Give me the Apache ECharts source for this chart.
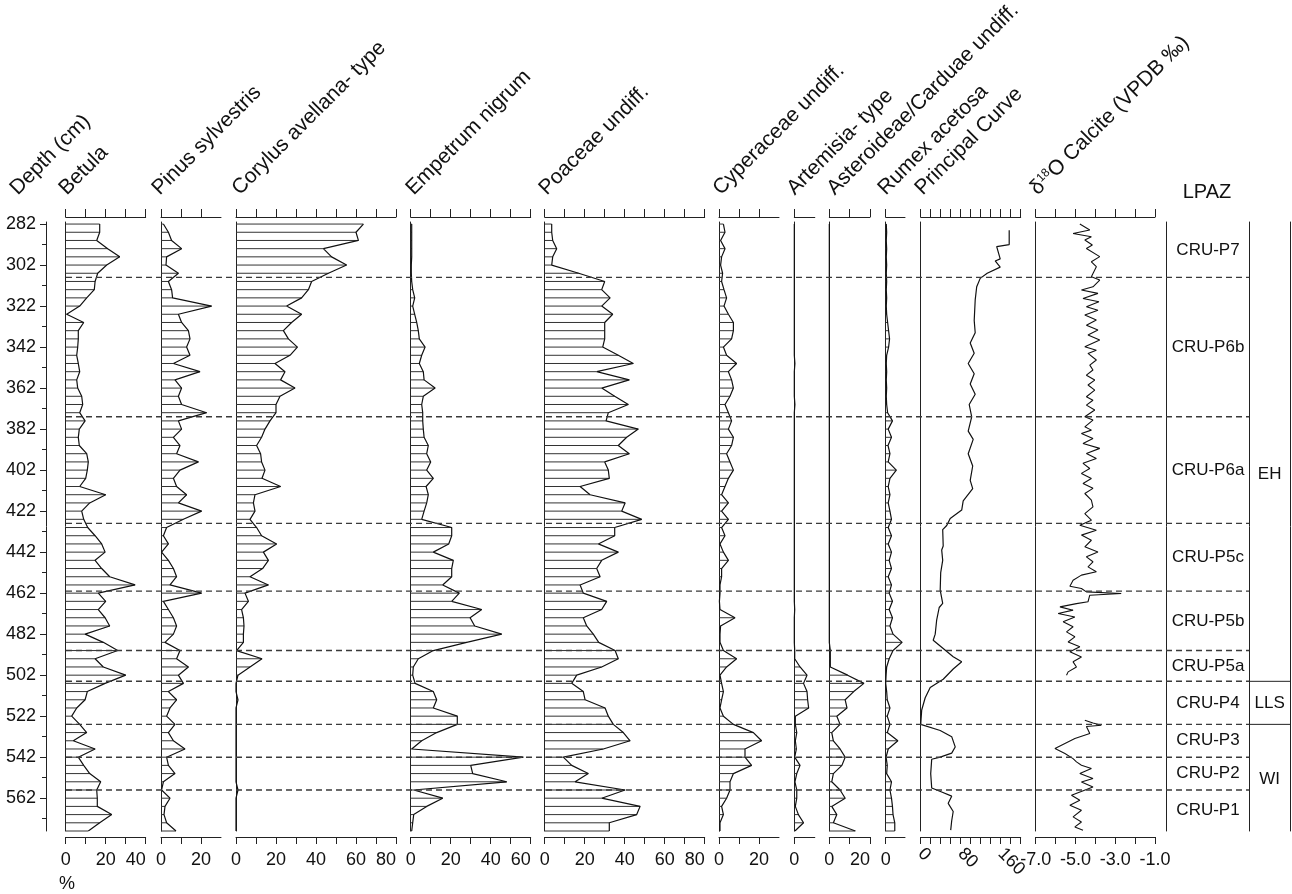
<!DOCTYPE html>
<html><head><meta charset="utf-8">
<script src="https://cdn.jsdelivr.net/npm/echarts@6/dist/echarts.min.js"></script>
<style>html,body{margin:0;padding:0;background:#fff}#c{width:1292px;height:894px}</style>
</head><body><div id="c"></div>
<script>
// ---------------- DATA ----------------
const depths = [282,286,290,294,298,302,306,310,314,318,322,326,330,334,338,342,346,350,354,358,362,366,370,374,378,382,386,390,394,398,402,406,410,414,418,422,426,430,434,438,442,446,450,454,458,462,466,470,474,478,482,486,490,494,498,502,506,510,514,518,522,526,530,534,538,542,546,550,554,558,562,566,570,574,578];
const betula = [17,17,15.5,21,27,20.5,16,14.7,14.3,10.5,7,0.5,9,6.3,6.3,6,5.5,6.3,7,5.5,6,8,8.5,7,9.7,6.8,6.3,6.8,10.5,11.3,10.8,10,7,20,12,8,9,11,14.7,18,19.7,14.7,18,22,34.7,16.3,20,16.3,19.7,22,9.7,18.8,26,14.7,18.8,30,19.7,10.8,9.7,5.5,3,7,10.5,3.8,14.7,6.3,9,12,17.5,15.5,15.8,15.8,23,17,11.3];
const pinus = [1.2,3.7,5.3,10.3,2.8,2.5,8.7,3.7,5.3,5.8,25.3,8.7,10.3,13.7,14.5,12.8,14.5,6.2,19.5,7,10.3,8.7,10.3,22.8,8.7,10.3,6.2,9.5,7.8,18.7,9.5,6.2,7.8,12.8,8.7,20.3,11.2,2.8,1.2,3.7,0.3,3.7,6.2,7.8,4.5,20.3,1.2,3.7,6.2,7.8,6.2,2,9.5,7.8,13.7,8.7,11.2,3.7,7.8,4.5,2.8,7,3.7,6.2,12,2.8,3.7,7,1.2,0.3,4.5,2,1.5,2.8,7.5];
const corylus = [63.7,60,61.2,43.7,47.8,55.3,46.2,37.8,36.2,32.8,25.3,32.8,27.8,23.7,26.2,30.7,27,19.5,24.5,22.3,29.5,22,20,20,17,14.5,12.8,10.3,12.3,12.8,14.5,13,22.3,9.5,8.7,9.5,7,10.3,12.8,20.3,13.7,16.2,13.3,7,16.2,4.5,6.2,2.8,3.7,4,3.7,3.7,0.3,13,7,1,0,0,1,0,0,0,0,0,0,0,0,0,0,1,0,0,0,0,0];
const empetrum = [0.5,0.5,0.5,0.5,0.5,0.3,0.3,0.5,1,2,1,2,3,3.8,4.3,7.2,5.5,4.3,6.3,6.7,12.2,6.3,5.5,6,6,6.3,6.7,8.8,8,10,8,11.3,7.7,8.8,8,6.7,5.5,20.5,20.5,19,11.3,21.3,20.5,20.5,16,24.3,20.5,35.5,29.7,32,45.5,28,11.3,3.8,1.3,1,2.2,11.3,13,11.3,23.3,23.3,13,5.5,0.5,56.3,30,31,48,1.5,16,8,1.5,1,0.5];
const poaceae = [3.5,3.5,4,6,4,3.5,17,30,28.5,32.7,28.5,34,30,30,30,29,36.8,44.3,26,42.3,28.5,35,41.8,31.8,30.7,46.8,41,36.8,42.3,30,31.8,32.3,17.7,22.7,40.2,38.5,48.5,35,35,26.8,36.8,28.5,26,27.7,17.7,19.3,31,28.5,19.3,21,24.3,27,35.2,36.8,28.5,16,13.5,19.3,20.2,30.2,31.8,34.3,39.3,42.7,29.3,9.3,13.5,21.8,15.2,40.2,28.5,47.7,46,32.3,32.3];
const cyperaceae = [2.2,3,0.8,3,1.3,0.8,1.8,1.3,2.5,3.8,2.5,4.7,7.2,7.2,6.3,2.2,3.8,8.8,4.7,6.3,7.2,5.5,3,4.7,6.3,4.7,7.2,6.3,3.8,5.5,7.2,4.7,3,1.3,4.7,1.3,4.7,1.3,3,0.5,2.2,4.7,1.3,1.3,0.5,0.5,0.2,0.5,8,0.8,0.5,0.5,2.2,8.8,3.8,0.5,1.3,2.2,1.3,0.5,2.2,7.2,17.2,21.3,13,13,16.3,7.2,5.5,5.5,3.8,1.3,2.2,0.5,0.5];
const artemisia = [0,0,0,0,0,0,0,0,0,0,0,0,0,0,0,0,0,0.3,0,0,0,0,0.3,0,0,0,0,0,0,0,0,0,0,0,0,0,0,0,0,0,0,0,0,0,0,0,0,0.2,0,0,0,0,0.2,0.2,2.8,6.2,4.5,6.2,6.5,7,0.5,0.5,1.2,0.5,1,0.2,2.8,1.2,0.3,1.2,1.2,0.5,2,4.5,0.3];
const asteroideae = [0,0,0,0,0,0,0,0,0,0,0,0,0,0,0,0,0,0,0,0,0,0,0,0,0,0,0,0,0,0,0,0,0,0,0,0,0,0,0,0,0,0,0,0,0,0,0,0,0,0,0,0,0.5,0.5,0.5,9,17,12,7.8,8.7,3.7,5.3,1.2,2,5.3,7.8,6.2,2,1.2,5.3,7.8,1.2,3.7,2,12.8];
const rumex = [0.3,0.5,0.3,0.5,0.3,0.5,0.3,0.5,0.3,0.5,0.3,0.5,1,1.5,2,1.5,0.5,0.3,0.5,0.3,0.5,0.3,0.5,1,3.5,1.3,3,1.2,2.2,1.3,5.5,2.2,1.3,2.2,1.3,2.2,3,1.3,3,1.3,3,1.8,3,1.3,3,1.8,3.5,1.8,3.5,2.2,3.8,8.5,3.8,1.8,0.5,0.2,0,0.5,0.8,2.2,0.8,2.2,0.8,6.3,1.3,0.2,0.8,0.5,3,2.2,3,3.5,3.8,4.7,4.7];

const pcDepth = [285,292,293,299,300,303,306,308.5,312.6,319,329,335,340,345,350,355,360,365,370,376,383,387,394,400,407,411,417,421.5,425.6,429,431,439,441,446,452,460.5,467,469,475,482,485,489,493,495.5,499,504,508,513,519,526,529,532,537,540,542,543,550,557,559,561,564.5,568.5,573,577.6];
const pcValue = [177,177,152,159,149,159,133,119,112,109,107,109,99,107,95,107,99,109,97,102,95,105,95,104,99,104,85,82,59,52,44,45,42,44,40,39,44,37,32,29,25,45,65,82,65,45,19,9,2,0,39,62,69,62,39,22,20,22,42,62,55,65,62,60];

const d18DepthA = [282,284.9,286.6,288.2,289.8,292.2,293.9,297.9,300.4,302.8,307.7,309.3,312.6,314.2,315.8,318.3,319.9,322.3,324,326.4,328.8,331.3,333.7,336.1,338.6,341.8,343.5,345.1,348.3,350.8,353.2,355.7,358.1,360.5,363,366.2,367.9,370.3,372.7,376,377.6,380.9,382.5,384.1,386.6,389,391.4,393.9,396.3,398.7,401.2,403.6,406.1,408.5,410.9,413.4,416.6,419.9,423.2,426.4,428.9,431.3,433.7,436.2,439.4,441.9,444.3,446.7,449.2,451.6,453.2,455.7,458.6,459.7,461.4,462.2,463,466.2,467.1,468.7,470.3,471.9,473.6,476,478.4,480.9,483.3,485.8,488.2,490.6,493.1,495.5,498,500.4,502];
const d18ValueA = [-4.78,-4.28,-5.12,-4.2,-4.53,-4.15,-4.45,-3.78,-4.2,-3.95,-4.2,-3.78,-4.12,-4.7,-3.87,-4.62,-3.82,-4.45,-3.87,-4.53,-3.95,-4.45,-3.87,-4.37,-3.78,-4.53,-3.95,-4.37,-3.95,-4.28,-4.12,-4.45,-4.03,-4.37,-4.03,-4.45,-4.12,-4.45,-4.03,-4.53,-4.12,-4.53,-4.2,-4.7,-4.12,-4.62,-3.78,-4.45,-3.95,-4.62,-4.28,-4.7,-4.2,-4.62,-4.12,-4.53,-4.2,-4.12,-4.53,-4.2,-4.78,-3.95,-4.7,-4.2,-4.53,-3.87,-4.45,-4.12,-4.37,-3.95,-4.7,-5.12,-5.28,-4.7,-4.45,-2.7,-4.28,-4.37,-4.95,-5.78,-5.12,-5.87,-5.03,-5.62,-5.12,-5.45,-5.03,-5.37,-4.78,-5.28,-4.7,-5.12,-4.95,-5.37,-5.45];
const d18DepthB = [524,525.3,526.4,527,530.5,532.9,537.8,540.2,542.7,544.3,545.9,547.5,550,552.4,554.1,556.5,560.6,563,565.4,567.9,571.1,573.6,576,577.6];
const d18ValueB = [-4.53,-4.12,-3.7,-4.45,-4.28,-5.03,-6.03,-5.53,-5.12,-4.95,-4.7,-4.2,-4.78,-4.12,-4.7,-4.12,-5.2,-4.78,-5.28,-4.7,-5.12,-4.7,-5.03,-4.62];

const depthLabels = [282,302,322,342,362,382,402,422,442,462,482,502,522,542,562];
const depthMinor = [292,312,332,352,372,392,412,432,452,472,492,512,532,552,572];
const zoneBounds = [308,376,428,461,490,505,526,542,558];
const zoneNames = ['CRU-P7','CRU-P6b','CRU-P6a','CRU-P5c','CRU-P5b','CRU-P5a','CRU-P4','CRU-P3','CRU-P2','CRU-P1'];
const zoneMids = [295,342,402,444.5,475.5,497.5,515.5,534,550,568];
const groupNames = ['EH','LLS','WI'];
const groupMids = [404,515.5,553];
const groupBounds = [505,526];

// ---------------- LAYOUT ----------------
const FONT = '"Liberation Sans", Arial, sans-serif';
const AX = '#222', TXT = '#111';
const TOP = 222, H = 609, YMIN = 281, YMAX = 578;

const panels = [
  {data:betula, left:65.7, width:80, min:0, max:40, ticks:[0,10,20,30,40], labels:[0,20,40], hatch:true, endR:true},
  {data:pinus, left:161, width:60, min:0, max:30, ticks:[0,10,20], labels:[0,20], hatch:true},
  {data:corylus, left:236, width:160, min:0, max:80, ticks:[0,10,20,30,40,50,60,70,80], labels:[0,20,40,60,80], hatch:true, endR:true},
  {data:empetrum, left:410.7, width:120, min:0, max:60, ticks:[0,10,20,30,40,50,60], labels:[0,20,40,60], hatch:true, endR:true},
  {data:poaceae, left:544.7, width:160, min:0, max:80, ticks:[0,10,20,30,40,50,60,70,80], labels:[0,20,40,60,80], hatch:true, endR:true},
  {data:cyperaceae, left:719, width:60, min:0, max:30, ticks:[0,10,20], labels:[0,20], hatch:true},
  {data:artemisia, left:794.3, width:20.5, min:0, max:10, ticks:[0], labels:[0], hatch:true},
  {data:asteroideae, left:829.3, width:40.7, min:0, max:20, ticks:[0,10,20], labels:[0,20], hatch:true, endR:true},
  {data:rumex, left:885.7, width:19.3, min:0, max:10, ticks:[0], labels:[0], hatch:true},
  {pc:true, left:920.7, width:100, min:0, max:200, ticks:[0,20,40,60,80,100,120,140,160,180,200], labels:[0,80,160], rotate:-45},
  {d18:true, left:1035.7, width:119.3, min:-7, max:-1, ticks:[-7,-6,-5,-4,-3,-2,-1], labels:[-7,-5,-3,-1], fmt:v=>Number(v).toFixed(1)}
];

const titles = [
  {t:'Depth (cm)', x:21, y:199},
  {t:'Betula', x:70, y:199},
  {t:'Pinus sylvestris', x:163, y:199},
  {t:'Corylus avellana- type', x:243, y:199},
  {t:'Empetrum nigrum', x:417, y:199},
  {t:'Poaceae undiff.', x:550, y:199},
  {t:'Cyperaceae undiff.', x:724, y:199},
  {t:'Artemisia- type', x:798, y:199},
  {t:'Asteroideae/Carduae undiff.', x:838, y:199},
  {t:'Rumex acetosa', x:889, y:199},
  {t:'Principal Curve', x:926, y:199},
  {t:'{a|δ}{s|18}{a|O Calcite (VPDB ‰)}', x:1041, y:199}
];

// ---------------- BUILD ----------------
const grid=[], xAxis=[], yAxis=[], series=[];
function addGrid(left,width){ grid.push({left:left, width:width, top:TOP, height:H, containLabel:false}); return grid.length-1; }
function baseAxis(){ return {type:'value', axisLine:{show:false}, axisTick:{show:false}, axisLabel:{show:false}, splitLine:{show:false}}; }
function addX(gi,o){ xAxis.push(Object.assign(baseAxis(),{gridIndex:gi},o)); return xAxis.length-1; }
function addY(gi,o){ yAxis.push(Object.assign(baseAxis(),{gridIndex:gi, min:YMIN, max:YMAX, inverse:true},o)); return yAxis.length-1; }
const lineOn = {show:true, onZero:false, lineStyle:{color:AX, width:1}};

// depth axis (major)
let g = addGrid(46, 5);
addX(g,{min:0,max:1,show:false});
addY(g,{position:'left', axisLine:lineOn,
  axisTick:{show:true, length:6, customValues:depthLabels, lineStyle:{color:AX}},
  axisLabel:{show:true, customValues:depthLabels, margin:10, fontSize:18, color:TXT, fontFamily:FONT}});
// depth axis (minor ticks)
g = addGrid(46, 5);
addX(g,{min:0,max:1,show:false});
addY(g,{position:'left', axisTick:{show:true, length:4, customValues:depthMinor, lineStyle:{color:AX}}});

function hatchRender(params, api){
  const v = api.value(0), d = api.value(1);
  const a = api.coord([0, d]), b = api.coord([v, d]);
  return {type:'line', shape:{x1:a[0], y1:a[1], x2:b[0], y2:b[1]}, style:{stroke:'#333', lineWidth:1}};
}
function textRender(names){
  return function(params, api){
    const p = api.coord([api.value(0), api.value(1)]);
    return {type:'text', x:p[0], y:p[1], style:{text:names[params.dataIndex], fill:TXT, fontSize:17, fontFamily:FONT, align:'center', verticalAlign:'middle'}};
  };
}

panels.forEach(p=>{
  const gi = addGrid(p.left, p.width);
  const xb = addX(gi,{position:'bottom', min:p.min, max:p.max, offset:6, axisLine:lineOn,
    axisTick:{show:true, length:7, customValues:p.ticks, lineStyle:{color:AX}},
    axisLabel:{show:true, customValues:p.labels, margin:14, fontSize:18, color:TXT, fontFamily:FONT,
      rotate:p.rotate||0, alignMaxLabel:p.endR?'right':null, formatter:p.fmt||(v=>String(v))}});
  addX(gi,{position:'top', min:p.min, max:p.max, offset:5, axisLine:lineOn,
    axisTick:{show:true, length:8, customValues:p.ticks, lineStyle:{color:AX}}});
  const yi = addY(gi,{position:'left', axisLine:lineOn});
  if (p.hatch){
    const pts = depths.map((d,i)=>[p.data[i], d]);
    series.push({type:'custom', xAxisIndex:xb, yAxisIndex:yi, data:pts, encode:{x:0,y:1}, renderItem:hatchRender, silent:true, z:2});
    series.push({type:'line', xAxisIndex:xb, yAxisIndex:yi, data:pts, showSymbol:false, symbol:'none', lineStyle:{color:'#111', width:1.2}, silent:true, z:3});
  }
  if (p.pc){
    series.push({type:'line', xAxisIndex:xb, yAxisIndex:yi, data:pcDepth.map((d,i)=>[pcValue[i], d]), showSymbol:false, symbol:'none', lineStyle:{color:'#111', width:1.2}, silent:true, z:3});
  }
  if (p.d18){
    series.push({type:'line', xAxisIndex:xb, yAxisIndex:yi, data:d18DepthA.map((d,i)=>[d18ValueA[i], d]), showSymbol:false, symbol:'none', lineStyle:{color:'#111', width:1.1}, silent:true, z:3});
    series.push({type:'line', xAxisIndex:xb, yAxisIndex:yi, data:d18DepthB.map((d,i)=>[d18ValueB[i], d]), showSymbol:false, symbol:'none', lineStyle:{color:'#111', width:1.1}, silent:true, z:3});
  }
});

// LPAZ zone column
let gz = addGrid(1166.7, 82.6);
const xz = addX(gz,{min:0,max:1});
const yz = addY(gz,{position:'left', axisLine:lineOn});
series.push({type:'custom', xAxisIndex:xz, yAxisIndex:yz, encode:{x:0,y:1}, silent:true, z:5,
  data:zoneMids.map(m=>[0.5, m]), renderItem:textRender(zoneNames)});
// group column
let gg = addGrid(1249.3, 40.7);
const xg = addX(gg,{min:0,max:1});
const yg = addY(gg,{position:'left', axisLine:lineOn});
addY(gg,{position:'right', axisLine:lineOn});
series.push({type:'custom', xAxisIndex:xg, yAxisIndex:yg, encode:{x:0,y:1}, silent:true, z:5,
  data:groupMids.map(m=>[0.5, m]), renderItem:textRender(groupNames)});
series.push({type:'custom', xAxisIndex:xg, yAxisIndex:yg, data:groupBounds.map(b=>[0,b]), encode:{x:0,y:1}, silent:true, z:4,
  renderItem:(params, api)=>{ const d=api.value(1); const a=api.coord([0,d]), b=api.coord([1,d]);
    return {type:'line', shape:{x1:a[0],y1:a[1],x2:b[0],y2:b[1]}, style:{stroke:AX, lineWidth:1}}; }});

// dashed zone boundaries overlay
let go = addGrid(66, 1183.3);
const xo = addX(go,{min:0,max:1});
const yo = addY(go,{});
series.push({type:'custom', xAxisIndex:xo, yAxisIndex:yo, data:zoneBounds.map(b=>[0,b]), encode:{x:0,y:1}, silent:true, z:10,
  renderItem:(params, api)=>{ const d=api.value(1); const a=api.coord([0,d]), b=api.coord([1,d]);
    return {type:'line', shape:{x1:a[0],y1:a[1],x2:b[0],y2:b[1]}, style:{stroke:'#3a3a3a', lineWidth:1.4, lineDash:[6,4]}}; }});

// titles
const graphic = titles.map(t=>({type:'text', x:t.x, y:t.y, rotation:Math.PI/4, silent:true,
  style:{text:t.t, fill:TXT, fontSize:21, fontFamily:FONT, align:'left', verticalAlign:'bottom', textAlign:'left', textVerticalAlign:'bottom',
    rich:{a:{fontSize:21, fontFamily:FONT, fill:TXT}, s:{fontSize:12, fontFamily:FONT, fill:TXT, verticalAlign:'top', padding:[0,0,9,0]}}}}));
graphic.push({type:'text', x:1207, y:192, silent:true, style:{text:'LPAZ', fill:TXT, fontSize:20, fontFamily:FONT, align:'center', verticalAlign:'middle', textAlign:'center', textVerticalAlign:'middle'}});
graphic.push({type:'text', x:67, y:884, silent:true, style:{text:'%', fill:TXT, fontSize:18, fontFamily:FONT, align:'center', verticalAlign:'middle', textAlign:'center', textVerticalAlign:'middle'}});

const chart = echarts.init(document.getElementById('c'), null, {renderer:'canvas'});
chart.setOption({animation:false, backgroundColor:'#fff', textStyle:{fontFamily:FONT}, grid, xAxis, yAxis, series, graphic});
</script></body></html>
